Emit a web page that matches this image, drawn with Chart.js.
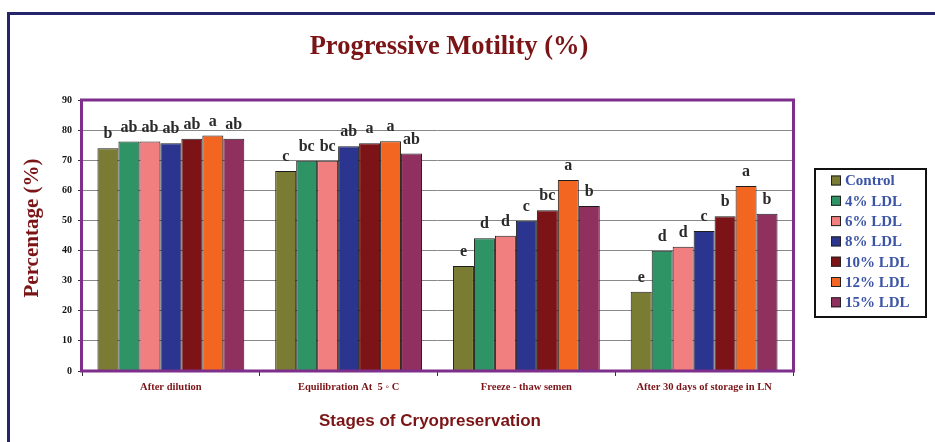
<!DOCTYPE html>
<html>
<head>
<meta charset="utf-8">
<script src="https://cdn.jsdelivr.net/npm/chart.js@4.4.1/dist/chart.umd.min.js"></script>
<style>
  html, body { margin: 0; padding: 0; background: #ffffff; }
  #wrap { width: 935px; height: 442px; position: relative; }
</style>
</head>
<body>
<div id="wrap"><canvas id="c" width="935" height="442"></canvas></div>
<script>
// ---- data ----
const categories = ["After dilution", "Equilibration At  5 \u25E6 C", "Freeze - thaw semen", "After 30 days of storage in LN"];
const seriesNames = ["Control", "4% LDL", "6% LDL", "8% LDL", "10% LDL", "12% LDL", "15% LDL"];
const controlVals = [74.0, 66.4, 34.9, 26.3];
const ldl4Vals    = [76.2, 69.8, 44.1, 39.9];
const ldl6Vals    = [76.2, 69.8, 44.9, 41.3];
const ldl8Vals    = [75.6, 74.6, 49.9, 46.5];
const ldl10Vals   = [77.1, 75.6, 53.4, 51.4];
const ldl12Vals   = [78.2, 76.3, 63.4, 61.4];
const ldl15Vals   = [77.1, 72.2, 54.8, 52.2];
const controlSig = ["b", "c", "e", "e"];
const ldl4Sig    = ["ab", "bc", "d", "d"];
const ldl6Sig    = ["ab", "bc", "d", "d"];
const ldl8Sig    = ["ab", "ab", "c", "c"];
const ldl10Sig   = ["ab", "a", "bc", "b"];
const ldl12Sig   = ["a", "a", "a", "a"];
const ldl15Sig   = ["ab", "ab", "b", "b"];
const yTicks = [0, 10, 20, 30, 40, 50, 60, 70, 80, 90];
const chartTitle = "Progressive Motility (%)";
const yTitle = "Percentage (%)";
const xTitle = "Stages of Cryopreservation";

const colors = ["#7B7C34", "#2E9466", "#F27F7F", "#2B358F", "#7C1417", "#F36622", "#90305F"];
const allVals = [controlVals, ldl4Vals, ldl6Vals, ldl8Vals, ldl10Vals, ldl12Vals, ldl15Vals];
const allSig = [controlSig, ldl4Sig, ldl6Sig, ldl8Sig, ldl10Sig, ldl12Sig, ldl15Sig];

const datasets = seriesNames.map((n, i) => ({
  label: n,
  data: allVals[i],
  sig: allSig[i],
  backgroundColor: colors[i],
  borderColor: "#1c1c1c",
  borderWidth: 1,
  categoryPercentage: 0.826,
  barPercentage: 1.0
}));

const DARKRED = "#7B1416";
const SERIF = "'Liberation Serif', 'Times New Roman', serif";
const SANS = "'Liberation Sans', Arial, sans-serif";

const decor = {
  id: "decor",
  beforeDraw(chart) {
    const ctx = chart.ctx;
    ctx.save();
    ctx.fillStyle = "#ffffff";
    ctx.fillRect(0, 0, chart.width, chart.height);
    // outer navy frame
    ctx.strokeStyle = "#25256C";
    ctx.lineWidth = 3;
    ctx.beginPath();
    ctx.moveTo(8.5, 460);
    ctx.lineTo(8.5, 13.5);
    ctx.lineTo(960, 13.5);
    ctx.stroke();
    ctx.restore();
  },
  afterDatasetsDraw(chart) {
    const ctx = chart.ctx;
    const a = chart.chartArea;
    ctx.save();
    // purple plot border
    ctx.strokeStyle = "#7E2F8C";
    ctx.lineWidth = 3;
    ctx.strokeRect(a.left - 0.5, a.top, a.right - a.left + 1, a.bottom - a.top);
    // significance letters
    ctx.fillStyle = "#2a2a2a";
    ctx.font = "bold 16px " + SERIF;
    ctx.textAlign = "center";
    ctx.textBaseline = "alphabetic";
    chart.data.datasets.forEach((ds, di) => {
      const meta = chart.getDatasetMeta(di);
      meta.data.forEach((el, i) => {
        ctx.fillText(ds.sig[i], el.x, el.y - 10);
      });
    });
    ctx.restore();
  },
  afterDraw(chart) {
    const ctx = chart.ctx;
    ctx.save();
    // main title
    ctx.fillStyle = DARKRED;
    ctx.textAlign = "center";
    ctx.textBaseline = "middle";
    ctx.font = "bold 26.5px " + SERIF;
    ctx.fillText(chartTitle, 449, 47);
    // y title
    ctx.save();
    ctx.translate(33, 228);
    ctx.rotate(-Math.PI / 2);
    ctx.font = "bold 21px " + SERIF;
    ctx.fillText(yTitle, 0, 0);
    ctx.restore();
    // x title
    ctx.font = "bold 17px " + SANS;
    ctx.fillText(xTitle, 430, 421);
    // legend
    ctx.strokeStyle = "#111111";
    ctx.lineWidth = 2;
    ctx.strokeRect(815, 169, 111, 148);
    ctx.font = "bold 15px " + SERIF;
    ctx.textAlign = "left";
    chart.data.datasets.forEach((ds, i) => {
      const y = 180.5 + i * 20.3;
      ctx.fillStyle = ds.backgroundColor;
      ctx.fillRect(831, y - 5, 10, 10);
      ctx.strokeStyle = "#222222";
      ctx.lineWidth = 1;
      ctx.strokeRect(831.5, y - 4.5, 9, 9);
      ctx.fillStyle = "#3B54A6";
      ctx.fillText(ds.label, 845, y + 1);
    });
    ctx.restore();
  }
};

new Chart(document.getElementById("c"), {
  type: "bar",
  data: { labels: categories, datasets: datasets },
  options: {
    responsive: false,
    animation: false,
    devicePixelRatio: 1,
    layout: { padding: { left: 0, right: 142, top: 100, bottom: 0 } },
    plugins: {
      legend: { display: false },
      title: { display: false },
      tooltip: { enabled: false }
    },
    scales: {
      x: {
        offset: true,
        afterFit(s) { s.height = 71; },
        grid: { display: true, drawOnChartArea: false, drawTicks: true, tickLength: 5, color: "#333333", offset: true },
        border: { display: false },
        ticks: {
          color: DARKRED,
          font: { family: SERIF, size: 10.5, weight: "bold" },
          padding: 5,
          maxRotation: 0,
          autoSkip: false
        }
      },
      y: {
        min: 0,
        max: 90,
        afterFit(s) { s.width = 82; },
        afterBuildTicks(s) { s.ticks = yTicks.map(v => ({ value: v })); },
        grid: { color: "#888888", lineWidth: 1, drawTicks: true, tickLength: 4, tickColor: "#333333" },
        border: { display: false },
        ticks: {
          color: "#111111",
          font: { family: SERIF, size: 10, weight: "bold" },
          padding: 6
        }
      }
    }
  },
  plugins: [decor]
});
</script>
</body>
</html>
